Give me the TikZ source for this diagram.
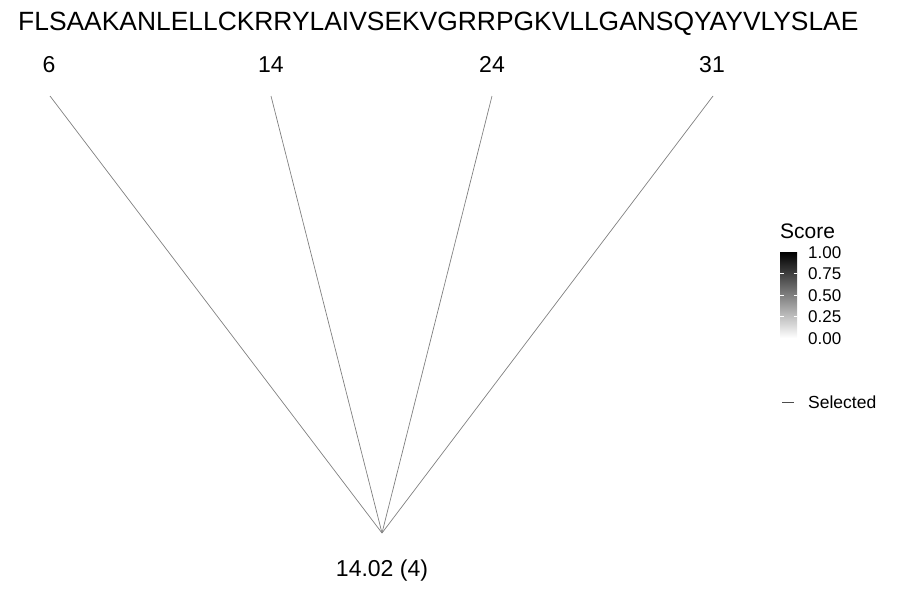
\documentclass[tikz,border=0pt]{standalone}
\usepackage{fontspec}
\setmainfont{Liberation Sans}
\begin{document}
\begin{tikzpicture}[x=1pt,y=-1pt,
  lbl/.style={inner sep=0pt, anchor=base, font=\fontsize{23}{23}\selectfont},
  link/.style={draw=black!50, line width=0.7pt},
  tick/.style={inner sep=0pt, anchor=base west, font=\fontsize{17}{17}\selectfont}]
\useasboundingbox (0,0) rectangle (900,600);
% sequence
\node[inner sep=0pt, anchor=base west, font=\fontsize{26.4}{26.4}\selectfont] (seq) at (18,30) {FLSAAKANLELLCKRRYLAIVSEKVGRRPGKVLLGANSQYAYVLYSLAE};
% position labels
\node[lbl] (n6) at (49,72) {6};
\node[lbl] (n14) at (271,72) {14};
\node[lbl] (n24) at (492,72) {24};
\node[lbl] (n31) at (712,72) {31};
\coordinate (t6) at (50,96);
\coordinate (t14) at (271,96);
\coordinate (t24) at (492,96);
\coordinate (t31) at (713,96);
\coordinate (b) at (382,533);
\draw[link] (t6) -- (b);
\draw[link] (t14) -- (b);
\draw[link] (t24) -- (b);
\draw[link] (t31) -- (b);
\node[lbl] (mass) at (382,576) {14.02 (4)};
% legend
\node[inner sep=0pt, anchor=base west, font=\fontsize{21}{21}\selectfont] (score) at (780,238) {Score};
\shade[top color=black, bottom color=white] (780,252) rectangle (797,338);
\foreach \v/\y in {0.75/273.5,0.50/295,0.25/316.5}{
  \draw[white, line width=0.6pt] (780,\y) -- (783.5,\y);
  \draw[white, line width=0.6pt] (793.5,\y) -- (797,\y);
}
\node[tick] (k100) at (808,258) {1.00};
\node[tick] (k075) at (808,279.5) {0.75};
\node[tick] (k050) at (808,301) {0.50};
\node[tick] (k025) at (808,322.5) {0.25};
\node[tick] (k000) at (808,344) {0.00};
\coordinate (s1) at (782,402);
\coordinate (s2) at (794,402);
\draw[black!70, line width=0.8pt] (s1) -- (s2);
\node[tick, font=\fontsize{17.5}{17.5}\selectfont] (sel) at (808,408.5) {Selected};
\end{tikzpicture}
\end{document}
